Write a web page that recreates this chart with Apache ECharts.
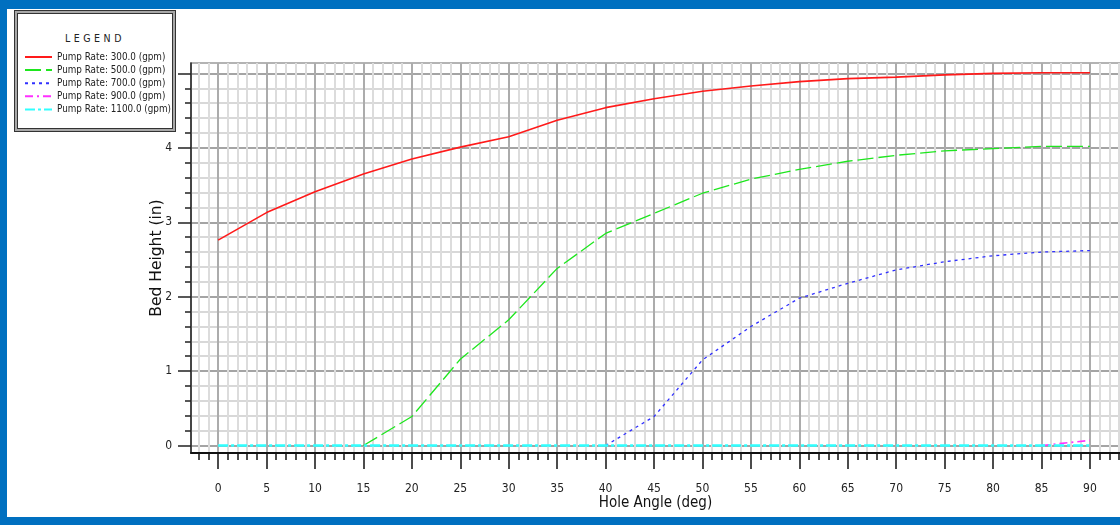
<!DOCTYPE html>
<html>
<head>
<meta charset="utf-8">
<script src="https://cdn.jsdelivr.net/npm/echarts@6/dist/echarts.min.js"></script>
<style>
  html, body { margin:0; padding:0; width:1120px; height:525px; overflow:hidden; background:#0070c0; }
  #white { position:absolute; left:7px; top:9px; width:1113px; height:508px; background:#ffffff; }
  #legendBox { position:absolute; left:14px; top:10px; width:160px; height:120px; border:1px solid #333;
    box-shadow: inset 0 0 0 2px #a8a8a8, inset 0 0 0 3px #333; background:#fff; }
  #legendTitle { position:absolute; left:0; top:21px; width:100%; text-align:center;
    font-family:'DejaVu Sans Condensed','Liberation Sans',sans-serif; font-size:10.5px;
    letter-spacing:3.5px; color:#222; }
  #chart { position:absolute; left:0; top:0; width:1120px; height:525px; }
</style>
</head>
<body>
<div id="white"></div>
<div id="legendBox"><div id="legendTitle">LEGEND</div></div>
<div id="chart"></div>
<script>
// ---- data ----
const angles = [0, 5, 10, 15, 20, 25, 30, 35, 40, 45, 50, 55, 60, 65, 70, 75, 80, 85, 90];
const seriesNames = ['Pump Rate: 300.0 (gpm)', 'Pump Rate: 500.0 (gpm)', 'Pump Rate: 700.0 (gpm)', 'Pump Rate: 900.0 (gpm)', 'Pump Rate: 1100.0 (gpm)'];
const rate300 = [2.76, 3.13, 3.41, 3.65, 3.85, 4.01, 4.15, 4.37, 4.54, 4.66, 4.76, 4.83, 4.89, 4.93, 4.95, 4.98, 5.00, 5.01, 5.01];
const rate500 = [null, null, null, 0, 0.39, 1.16, 1.69, 2.38, 2.85, 3.12, 3.39, 3.58, 3.71, 3.82, 3.90, 3.96, 3.99, 4.02, 4.02];
const rate700 = [null, null, null, null, null, null, null, null, 0, 0.39, 1.15, 1.60, 1.98, 2.18, 2.36, 2.47, 2.55, 2.60, 2.62];
const rate900 = [null, null, null, null, null, null, null, null, null, null, null, null, null, null, null, null, null, 0, 0.07];
const rate1100 = [0, 0, 0, 0, 0, 0, 0, 0, 0, 0, 0, 0, 0, 0, 0, 0, 0, 0, 0];
const xTickLabels = [0, 5, 10, 15, 20, 25, 30, 35, 40, 45, 50, 55, 60, 65, 70, 75, 80, 85, 90];
const yTickLabels = [0, 1, 2, 3, 4];
const yMajorTicks = [0, 1, 2, 3, 4, 5];

// minor ticks (axis furniture)
const xMinorTicks = [];
for (let v = -2; v <= 93; v++) xMinorTicks.push(v);
const yMinorTicks = [];
for (let i = 0; i <= 25; i++) yMinorTicks.push(Math.round(i * 2) / 10);

const COND = "'DejaVu Sans Condensed','Liberation Sans',sans-serif";
const XMIN = -2.8, XMAX = 93.1, YMIN = -0.1, YMAX = 5.14;

function pairs(vals) { return angles.map((a, i) => [a, vals[i]]); }

const styles = [
  { color: '#ff1a1a', width: 1.6, type: 'solid' },
  { color: '#1ee61e', width: 1.3, type: [16, 5] },
  { color: '#3030ff', width: 1.3, type: [3, 4] },
  { color: '#ff30ff', width: 1.6, type: [8, 4, 2, 4] },
  { color: '#30ffff', width: 2.6, type: [10, 3, 3, 3] }
];
const values = [rate300, rate500, rate700, rate900, rate1100];

const chart = echarts.init(document.getElementById('chart'), null, { renderer: 'canvas' });
chart.setOption({
  backgroundColor: 'transparent',
  animation: false,
  grid: { left: 191, top: 63, right: -2, height: 390, show: true, borderColor: '#9a9a9a', borderWidth: 1.5, containLabel: false },
  legend: {
    left: 24, top: 52, padding: 0, orient: 'vertical', itemWidth: 27, itemHeight: 10, itemGap: 3.1,
    itemStyle: { opacity: 0 },
    textStyle: { fontFamily: COND, fontSize: 9.8, lineHeight: 10, color: '#222' },
    data: seriesNames
  },
  xAxis: [
    {
      type: 'value', min: XMIN, max: XMAX, position: 'bottom',
      axisLine: { show: true, onZero: false, lineStyle: { color: '#111', width: 2 } },
      axisTick: { show: true, customValues: xMinorTicks, length: 7, lineStyle: { color: '#111', width: 1.5 } },
      axisLabel: { show: false },
      splitLine: { show: true, lineStyle: { color: '#dcdcdc', width: 2 } }
    },
    {
      type: 'value', min: XMIN, max: XMAX, position: 'bottom',
      name: 'Hole Angle (deg)', nameLocation: 'middle', nameGap: 43, nameMoveOverlap: false,
      nameTextStyle: { fontFamily: COND, fontSize: 15, color: '#111' },
      axisLine: { show: false, onZero: false },
      axisTick: { show: true, customValues: xTickLabels, length: 16, lineStyle: { color: '#111', width: 1.5 } },
      axisLabel: { show: true, customValues: xTickLabels, margin: 30, fontFamily: COND, fontSize: 12, color: '#222' },
      splitLine: { show: true, lineStyle: { color: '#9c9c9c', width: 1.5 } }
    }
  ],
  yAxis: [
    {
      type: 'value', min: YMIN, max: YMAX, position: 'left',
      axisLine: { show: true, onZero: false, lineStyle: { color: '#222', width: 1.5 } },
      axisTick: { show: true, customValues: yMinorTicks, length: 6, lineStyle: { color: '#222', width: 1.5 } },
      axisLabel: { show: false },
      splitLine: { show: true, lineStyle: { color: '#d8d8d8', width: 2 } }
    },
    {
      type: 'value', min: YMIN, max: YMAX, position: 'left',
      name: 'Bed Height (in)', nameLocation: 'middle', nameGap: 26, nameMoveOverlap: false,
      nameTextStyle: { fontFamily: "'DejaVu Sans',sans-serif", fontSize: 15.5, color: '#111' },
      axisLine: { show: false, onZero: false },
      axisTick: { show: true, customValues: yMajorTicks, length: 13, lineStyle: { color: '#222', width: 1.5 } },
      axisLabel: { show: true, customValues: yTickLabels, margin: 19, fontFamily: COND, fontSize: 12, color: '#222' },
      splitLine: { show: true, lineStyle: { color: '#939393', width: 1.5 } }
    }
  ],
  series: seriesNames.map((name, i) => ({
    name: name, type: 'line', xAxisIndex: 0, yAxisIndex: 0,
    data: pairs(values[i]), showSymbol: false, symbol: 'none', connectNulls: false,
    lineStyle: styles[i], itemStyle: { color: styles[i].color }, z: 3 + i
  }))
});
</script>
</body>
</html>
